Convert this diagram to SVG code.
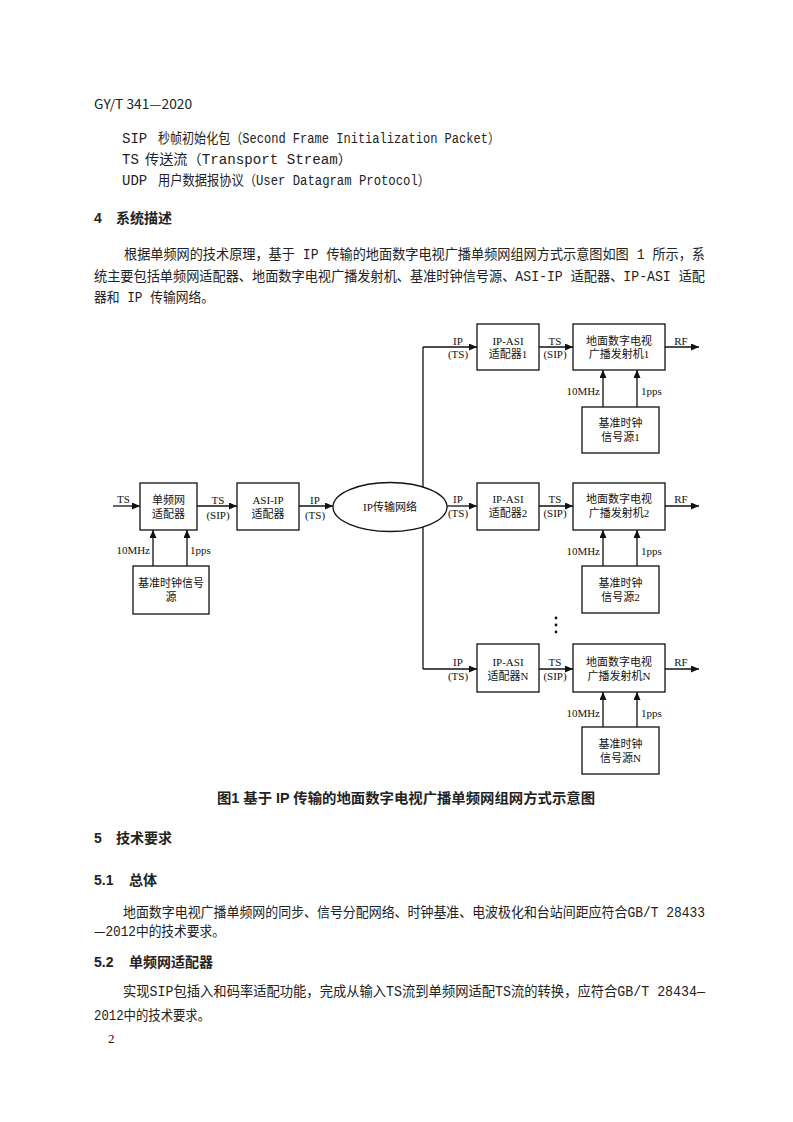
<svg xmlns="http://www.w3.org/2000/svg" width="793" height="1122" viewBox="0 0 793 1122">
<style>
.b{font-family:"Liberation Mono","Noto Sans CJK SC",monospace;font-size:14px;fill:#222}
.h{font-family:"Liberation Sans","Noto Sans CJK SC",sans-serif;font-size:14px;font-weight:700;fill:#222}
.hd{font-family:"Noto Sans CJK SC",sans-serif;font-size:13px;fill:#222}
.d{font-family:"Liberation Serif","Noto Sans CJK SC",serif;font-size:11px;fill:#111}
.cj{font-family:"Noto Sans CJK SC",sans-serif}
.c{text-anchor:middle}
.e{text-anchor:end}
.box{fill:#fff;stroke:#111;stroke-width:1.3}
.ln{fill:none;stroke:#111;stroke-width:1.3}
.ar{fill:none;stroke:#111;stroke-width:1.3;marker-end:url(#ah)}
</style>
<defs>
<marker id="ah" markerUnits="userSpaceOnUse" markerWidth="9" markerHeight="7" refX="8" refY="3.5" orient="auto">
<path d="M0,0 L8,3.5 L0,7 z" fill="#111"/>
</marker>
</defs>
<rect width="793" height="1122" fill="#fff"/>

<g id="page-text-top">
<text class="hd" x="94" y="109" textLength="98" lengthAdjust="spacingAndGlyphs">GY/T 341—2020</text>
<text class="b" x="122" y="143">SIP</text>
<text class="b" x="158" y="143" textLength="342" lengthAdjust="spacingAndGlyphs">秒帧初始化包（Second Frame Initialization Packet）</text>
<text class="b" x="122" y="164">TS</text>
<text class="b" x="145" y="164" textLength="207" lengthAdjust="spacingAndGlyphs">传送流（Transport Stream）</text>
<text class="b" x="122" y="185">UDP</text>
<text class="b" x="158" y="185" textLength="272" lengthAdjust="spacingAndGlyphs">用户数据报协议（User Datagram Protocol）</text>
<text class="h" x="94" y="223">4</text>
<text class="h" x="116" y="223">系统描述</text>
<text class="b" x="124" y="259" textLength="581" lengthAdjust="spacingAndGlyphs">根据单频网的技术原理，基于 IP 传输的地面数字电视广播单频网组网方式示意图如图 1 所示，系</text>
<text class="b" x="94" y="281" textLength="611" lengthAdjust="spacingAndGlyphs">统主要包括单频网适配器、地面数字电视广播发射机、基准时钟信号源、ASI-IP 适配器、IP-ASI 适配</text>
<text class="b" x="94" y="302" textLength="120" lengthAdjust="spacingAndGlyphs">器和 IP 传输网络。</text>
</g>

<g id="connectors">
<path class="ar" d="M113,506 H140"/>
<path class="ar" d="M197,506 H237"/>
<path class="ar" d="M299,506 H333"/>
<path class="ar" d="M153,566 V530"/>
<path class="ar" d="M187,566 V530"/>
<path class="ln" d="M423,347 V669"/>
<path class="ar" d="M423,347 H477"/>
<path class="ar" d="M447,506 H477"/>
<path class="ar" d="M423,669 H477"/>
<path class="ar" d="M539,347 H573"/>
<path class="ar" d="M539,506 H573"/>
<path class="ar" d="M539,669 H573"/>
<path class="ar" d="M665,347 H699"/>
<path class="ar" d="M665,506 H699"/>
<path class="ar" d="M665,669 H699"/>
<path class="ar" d="M603,407 V370"/>
<path class="ar" d="M637,407 V370"/>
<path class="ar" d="M603,566 V530"/>
<path class="ar" d="M637,566 V530"/>
<path class="ar" d="M603,727 V692"/>
<path class="ar" d="M637,727 V692"/>
</g>

<g id="connector-labels">
<text class="d" x="117" y="503">TS</text>
<text class="d c" x="218" y="504">TS</text>
<text class="d c" x="218" y="519">(SIP)</text>
<text class="d c" x="315" y="504">IP</text>
<text class="d c" x="315" y="519">(TS)</text>
<text class="d e" x="150" y="554">10MHz</text>
<text class="d" x="190" y="554">1pps</text>
<text class="d c" x="458" y="345">IP</text>
<text class="d c" x="458" y="358">(TS)</text>
<text class="d c" x="555" y="345">TS</text>
<text class="d c" x="555" y="358">(SIP)</text>
<text class="d c" x="681" y="345">RF</text>
<text class="d e" x="600" y="395">10MHz</text>
<text class="d" x="641" y="395">1pps</text>
<text class="d c" x="458" y="503">IP</text>
<text class="d c" x="458" y="517">(TS)</text>
<text class="d c" x="555" y="503">TS</text>
<text class="d c" x="555" y="517">(SIP)</text>
<text class="d c" x="681" y="503">RF</text>
<text class="d e" x="600" y="555">10MHz</text>
<text class="d" x="641" y="555">1pps</text>
<text class="d c" x="458" y="666">IP</text>
<text class="d c" x="458" y="680">(TS)</text>
<text class="d c" x="555" y="666">TS</text>
<text class="d c" x="555" y="680">(SIP)</text>
<text class="d c" x="681" y="666">RF</text>
<text class="d e" x="600" y="717">10MHz</text>
<text class="d" x="641" y="717">1pps</text>
</g>

<g id="sfn-adapter">
<rect class="box" x="140" y="483" width="57" height="47"/>
<text class="d c" x="168.5" y="504">单频网</text>
<text class="d c" x="168.5" y="518">适配器</text>
</g>
<g id="asi-ip-adapter">
<rect class="box" x="237" y="483" width="62" height="47"/>
<text class="d c" x="268" y="504">ASI-IP</text>
<text class="d c" x="268" y="518">适配器</text>
</g>
<g id="clock-main">
<rect class="box" x="133" y="566" width="76" height="48"/>
<text class="d c" x="171" y="587">基准时钟信号</text>
<text class="d c" x="171" y="601">源</text>
</g>
<g id="ip-network">
<ellipse class="box" cx="390" cy="507" rx="57" ry="24.5"/>
<text class="d c" x="390" y="511">IP传输网络</text>
</g>

<g id="ip-asi-1">
<rect class="box" x="477" y="324" width="62" height="46"/>
<text class="d c" x="508" y="345">IP-ASI</text>
<text class="d c" x="508" y="358">适配器1</text>
</g>
<g id="tx-1">
<rect class="box" x="573" y="324" width="92" height="46"/>
<text class="d c" x="619" y="345">地面数字电视</text>
<text class="d c" x="619" y="358">广播发射机1</text>
</g>
<g id="clock-1">
<rect class="box" x="582" y="407" width="77" height="46"/>
<text class="d c" x="620.5" y="427">基准时钟</text>
<text class="d c" x="620.5" y="441">信号源1</text>
</g>

<g id="ip-asi-2">
<rect class="box" x="477" y="483" width="62" height="47"/>
<text class="d c" x="508" y="503">IP-ASI</text>
<text class="d c" x="508" y="517">适配器2</text>
</g>
<g id="tx-2">
<rect class="box" x="573" y="483" width="92" height="47"/>
<text class="d c" x="619" y="503">地面数字电视</text>
<text class="d c" x="619" y="517">广播发射机2</text>
</g>
<g id="clock-2">
<rect class="box" x="582" y="566" width="77" height="47"/>
<text class="d c" x="620.5" y="587">基准时钟</text>
<text class="d c" x="620.5" y="601">信号源2</text>
</g>

<g id="ellipsis">
<circle cx="556" cy="618" r="1.4" fill="#111"/>
<circle cx="556" cy="625" r="1.4" fill="#111"/>
<circle cx="556" cy="632" r="1.4" fill="#111"/>
</g>

<g id="ip-asi-n">
<rect class="box" x="477" y="644" width="62" height="48"/>
<text class="d c" x="508" y="666">IP-ASI</text>
<text class="d c" x="508" y="680">适配器N</text>
</g>
<g id="tx-n">
<rect class="box" x="573" y="644" width="92" height="48"/>
<text class="d c" x="619" y="666">地面数字电视</text>
<text class="d c" x="619" y="680">广播发射机N</text>
</g>
<g id="clock-n">
<rect class="box" x="582" y="727" width="77" height="47"/>
<text class="d c" x="620.5" y="748">基准时钟</text>
<text class="d c" x="620.5" y="762">信号源N</text>
</g>

<g id="page-text-bottom">
<text class="h" x="217" y="803" textLength="378" lengthAdjust="spacingAndGlyphs">图1  基于 IP 传输的地面数字电视广播单频网组网方式示意图</text>
<text class="h" x="94" y="843">5</text>
<text class="h" x="116" y="843">技术要求</text>
<text class="h" x="94" y="885">5.1</text>
<text class="h" x="129" y="885">总体</text>
<text class="b" x="123" y="917" textLength="582" lengthAdjust="spacingAndGlyphs">地面数字电视广播单频网的同步、信号分配网络、时钟基准、电波极化和台站间距应符合GB/T 28433</text>
<text class="b" x="94" y="936" textLength="131" lengthAdjust="spacingAndGlyphs"><tspan class="cj">—</tspan>2012中的技术要求。</text>
<text class="h" x="94" y="967">5.2</text>
<text class="h" x="129" y="967">单频网适配器</text>
<text class="b" x="123" y="996" textLength="582" lengthAdjust="spacingAndGlyphs">实现SIP包插入和码率适配功能，完成从输入TS流到单频网适配TS流的转换，应符合GB/T 28434—</text>
<text class="b" x="94" y="1020" textLength="116" lengthAdjust="spacingAndGlyphs">2012中的技术要求。</text>
<text class="d" x="108" y="1043" style="font-size:13px">2</text>
</g>
</svg>
